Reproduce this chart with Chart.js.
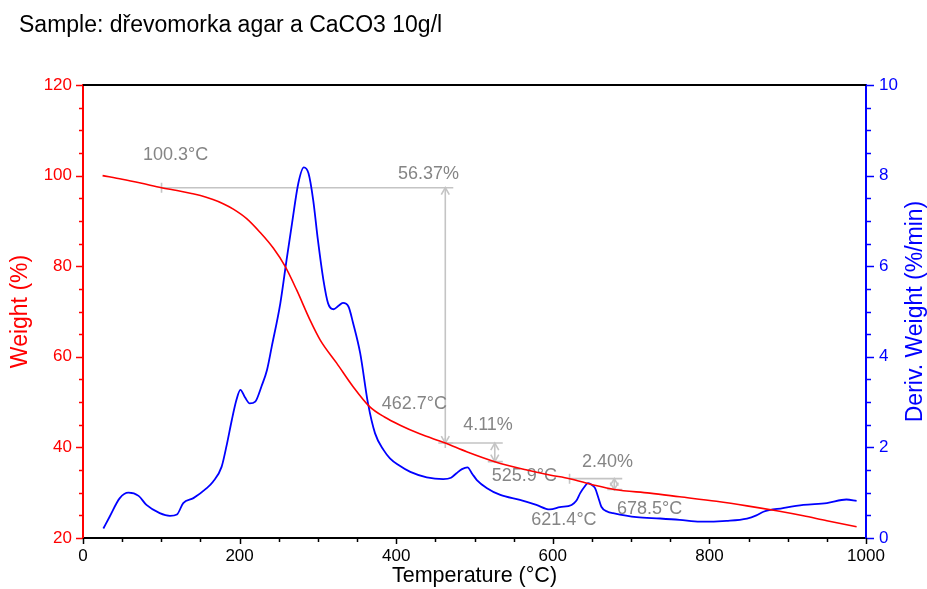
<!DOCTYPE html>
<html>
<head>
<meta charset="utf-8">
<script src="https://cdn.jsdelivr.net/npm/chart.js@4.4.1/dist/chart.umd.min.js"></script>
<style>
    html, body { margin: 0; padding: 0; background: #fff; }
    canvas { display: block; }
</style>
</head>
<body>
<canvas id="tga-chart" width="927" height="589"></canvas>
<script>
// ===================================
// TGA curve: weight and derivative weight vs temperature
// ===================================

const sampleTitle = 'Sample: dřevomorka agar a CaCO3 10g/l';

// Weight (%) curve
const weightTemps = [25, 50, 75, 100.3, 120, 137, 150, 166, 179, 192, 209, 226, 243, 258, 273,
    290, 303, 324, 345, 366, 385, 405, 430, 462.7, 490, 525.9, 567, 596, 621.4, 652, 678.5,
    724, 762, 809, 848, 886, 920, 950, 988];
const weightValues = [100.0, 99.2, 98.3, 97.33, 96.7, 96.1, 95.6, 94.7, 93.8, 92.6, 90.5, 87.5, 84.0, 80.0, 74.7,
    68.1, 63.7, 58.6, 53.4, 49.0, 46.7, 44.9, 43.0, 40.96, 39.05, 36.85, 35.0, 33.9, 33.1, 31.7, 30.7,
    29.9, 29.1, 28.1, 27.1, 26.0, 24.9, 23.8, 22.5];

// Derivative weight (%/min) curve
const derivTemps = [26, 34, 47, 58, 71, 81, 98, 111, 120, 128, 141, 158, 166, 177, 184, 190, 196, 201, 207,
    213, 220, 228, 235, 241, 252, 260, 267, 275, 282, 288, 294, 300, 307, 313, 320, 326, 332, 339, 345,
    354, 364, 373, 384, 392, 403, 418, 439, 460, 470, 477, 484, 491, 497, 503, 516, 533, 558, 579, 596,
    609, 624, 630, 635, 640, 645, 650, 654, 658, 662, 670, 677, 707, 737, 762, 788, 822, 848, 860, 869,
    894, 920, 950, 975, 988];
const derivValues = [0.21, 0.47, 0.88, 1.00, 0.93, 0.73, 0.55, 0.49, 0.52, 0.77, 0.88, 1.10, 1.24, 1.57, 2.09, 2.60, 3.05, 3.27, 3.10,
    2.97, 3.01, 3.35, 3.71, 4.22, 5.18, 6.14, 6.95, 7.83, 8.18, 8.05, 7.46, 6.58, 5.70, 5.18, 5.05, 5.12, 5.19, 5.11, 4.74,
    4.08, 2.97, 2.31, 1.94, 1.76, 1.61, 1.46, 1.34, 1.30, 1.33, 1.43, 1.52, 1.56, 1.42, 1.28, 1.10, 0.95, 0.84, 0.73, 0.63,
    0.68, 0.73, 0.82, 0.99, 1.12, 1.21, 1.17, 1.10, 0.90, 0.69, 0.58, 0.55, 0.46, 0.43, 0.40, 0.36, 0.38, 0.43, 0.50, 0.58,
    0.66, 0.73, 0.77, 0.85, 0.82];

// Weight-loss steps: start/end temperature, weight at start, loss
const stepStartTemps = [100.3, 462.7, 621.4];
const stepEndTemps = [462.7, 525.9, 678.5];
const stepStartWeights = [97.33, 40.96, 33.1];
const stepLosses = [56.37, 4.11, 2.40];

// Axis ranges
const tempRange = [0, 1000];
const weightRange = [20, 120];
const derivRange = [0, 10];

const FONT = '"Liberation Sans", Arial, sans-serif';
const STEP_LINE = '#c4c4c4';
const STEP_TEXT = '#858585';

function drawTickMarks(ctx, scale, minor, major, edge, dir, majorLen, minorLen, color) {
    const horizontal = scale.isHorizontal();
    const count = Math.round((scale.max - scale.min) / minor);
    ctx.save();
    ctx.strokeStyle = color;
    ctx.lineWidth = 1.5;
    for (let i = 0; i <= count; i++) {
        const v = scale.min + i * minor;
        const isMajor = Math.abs(v / major - Math.round(v / major)) < 1e-6;
        const len = isMajor ? majorLen : minorLen;
        const p = Math.round(scale.getPixelForValue(v)) + 0.5;
        ctx.beginPath();
        if (horizontal) {
            ctx.moveTo(p, edge);
            ctx.lineTo(p, edge + dir * len);
        } else {
            ctx.moveTo(edge, p);
            ctx.lineTo(edge + dir * len, p);
        }
        ctx.stroke();
    }
    ctx.restore();
}

function arrowHead(ctx, x, y, dir) {
    // dir = -1 points up, 1 points down
    ctx.beginPath();
    ctx.moveTo(x - 4, y - dir * 7);
    ctx.lineTo(x, y);
    ctx.lineTo(x + 4, y - dir * 7);
    ctx.stroke();
}

// Step annotations drawn under the curves
const stepPlugin = {
    id: 'stepAnnotations',
    beforeDatasetsDraw(chart) {
        const ctx = chart.ctx;
        const xs = chart.scales.x;
        const ys = chart.scales.y;
        const px = t => xs.getPixelForValue(t);
        const py = w => ys.getPixelForValue(w);
        const endWeights = stepStartWeights.map((w, i) => w - stepLosses[i]);

        ctx.save();
        ctx.strokeStyle = STEP_LINE;
        ctx.lineWidth = 1.6;
        stepStartTemps.forEach((t0, i) => {
            const x0 = px(t0);
            const x1 = px(stepEndTemps[i]);
            const y0 = py(stepStartWeights[i]);
            const y1 = py(endWeights[i]);

            ctx.beginPath();
            ctx.moveTo(x0, y0);
            ctx.lineTo(x1 + 8, y0);
            ctx.moveTo(x0, y0 - 5);
            ctx.lineTo(x0, y0 + 5);
            ctx.moveTo(x1, y0);
            ctx.lineTo(x1, y1);
            ctx.moveTo(x1 - 7, y1);
            ctx.lineTo(x1 + 8, y1);
            ctx.stroke();
            arrowHead(ctx, x1, y0, -1);
            arrowHead(ctx, x1, y1, 1);
        });

        ctx.fillStyle = STEP_TEXT;
        ctx.font = '18px ' + FONT;
        ctx.textBaseline = 'alphabetic';

        // temperature labels: [temp, weight, dx, dy, align]
        const tempMarks = [
            [stepStartTemps[0], stepStartWeights[0], -18.5, -27.7, 'left'],
            [stepEndTemps[0], endWeights[0], 1.7, -33.7, 'right'],
            [stepEndTemps[1], endWeights[1], -3, 19, 'left'],
            [stepStartTemps[2], stepStartWeights[2], -5.6, 46, 'center'],
            [stepEndTemps[2], endWeights[2], 2.7, 24, 'left']
        ];
        tempMarks.forEach(([t, w, dx, dy, align]) => {
            ctx.textAlign = align;
            ctx.fillText(t.toFixed(1) + '°C', px(t) + dx, py(w) + dy);
        });

        // loss labels next to the top of each vertical arrow
        const lossOffsets = [[13.7, -8.7, 'right'], [-6.8, -12.7, 'center'], [-6.8, -11.7, 'center']];
        stepLosses.forEach((loss, i) => {
            const [dx, dy, align] = lossOffsets[i];
            ctx.textAlign = align;
            ctx.fillText(loss.toFixed(2) + '%', px(stepEndTemps[i]) + dx, py(stepStartWeights[i]) + dy);
        });
        ctx.restore();
    }
};

// Frame, minor ticks, title and right axis title
const framePlugin = {
    id: 'frame',
    afterDraw(chart) {
        const ctx = chart.ctx;
        const area = chart.chartArea;
        const { x, y, y1 } = chart.scales;

        ctx.save();
        ctx.strokeStyle = '#000';
        ctx.lineWidth = 2;
        ctx.beginPath();
        ctx.moveTo(area.left, area.top);
        ctx.lineTo(area.right, area.top);
        ctx.stroke();
        ctx.restore();

        drawTickMarks(ctx, y, 5, 20, area.left, -1, 7, 4, '#ff0000');
        drawTickMarks(ctx, y1, 0.5, 2, area.right, 1, 8, 5, '#0000ff');
        drawTickMarks(ctx, x, 50, 200, area.bottom, 1, 6, 4, '#000');

        ctx.save();
        ctx.fillStyle = '#000';
        ctx.font = '23px ' + FONT;
        ctx.textAlign = 'left';
        ctx.textBaseline = 'alphabetic';
        ctx.fillText(sampleTitle, 19, 32);

        ctx.fillStyle = '#0000ff';
        ctx.translate(area.right + 55.7, (area.top + area.bottom) / 2);
        ctx.rotate(-Math.PI / 2);
        ctx.textAlign = 'center';
        ctx.fillText('Deriv. Weight (%/min)', 0, 0);
        ctx.restore();
    }
};

const ctx = document.getElementById('tga-chart').getContext('2d');

new Chart(ctx, {
    type: 'line',
    data: {
        datasets: [{
            label: 'Weight (%)',
            data: weightTemps.map((t, i) => ({ x: t, y: weightValues[i] })),
            yAxisID: 'y',
            borderColor: '#ff0000',
            borderWidth: 1.6,
            pointRadius: 0,
            cubicInterpolationMode: 'monotone',
            fill: false
        }, {
            label: 'Deriv. Weight (%/min)',
            data: derivTemps.map((t, i) => ({ x: t, y: derivValues[i] })),
            yAxisID: 'y1',
            borderColor: '#0000ff',
            borderWidth: 1.8,
            pointRadius: 0,
            cubicInterpolationMode: 'monotone',
            fill: false
        }]
    },
    options: {
        responsive: false,
        animation: false,
        events: [],
        layout: { padding: { top: 85, left: 0, right: 0, bottom: 0 } },
        plugins: {
            legend: { display: false },
            tooltip: { enabled: false }
        },
        scales: {
            x: {
                type: 'linear',
                position: 'bottom',
                min: tempRange[0],
                max: tempRange[1],
                ticks: {
                    stepSize: 200, color: '#000', font: { family: FONT, size: 17 }, padding: 3, maxRotation: 0,
                    callback: value => String(value)
                },
                grid: { drawOnChartArea: false, tickLength: 5, tickColor: 'rgba(0,0,0,0)' },
                border: { color: '#000', width: 2 },
                title: { display: true, text: 'Temperature (°C)', color: '#000', font: { family: FONT, size: 21.5 }, padding: 0 },
                afterFit: s => { s.height = 51; }
            },
            y: {
                type: 'linear',
                position: 'left',
                min: weightRange[0],
                max: weightRange[1],
                ticks: { stepSize: 20, color: '#ff0000', font: { family: FONT, size: 17 }, padding: 4 },
                grid: { drawOnChartArea: false, tickLength: 7, tickColor: 'rgba(0,0,0,0)' },
                border: { color: '#ff0000', width: 2 },
                title: { display: true, text: 'Weight (%)', color: '#ff0000', font: { family: FONT, size: 23 }, padding: { top: 7, bottom: 0 } },
                afterFit: s => { s.width = 83; }
            },
            y1: {
                type: 'linear',
                position: 'right',
                min: derivRange[0],
                max: derivRange[1],
                ticks: { stepSize: 2, color: '#0000ff', font: { family: FONT, size: 17 }, padding: 5 },
                grid: { drawOnChartArea: false, tickLength: 8, tickColor: 'rgba(0,0,0,0)' },
                border: { color: '#0000ff', width: 2 },
                afterFit: s => { s.width = 61; }
            }
        }
    },
    plugins: [stepPlugin, framePlugin]
});
</script>
</body>
</html>
